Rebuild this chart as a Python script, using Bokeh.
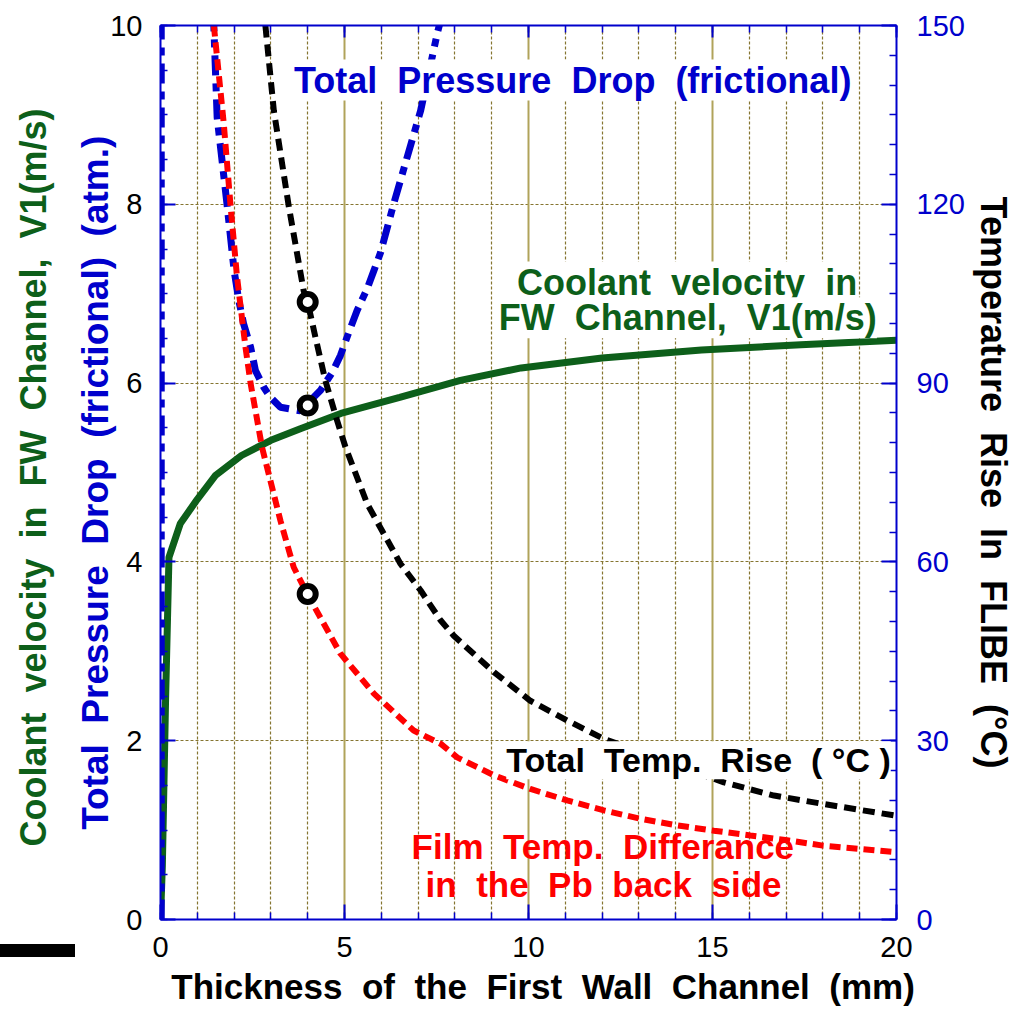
import math
from bokeh.plotting import figure
from bokeh.layouts import column
from bokeh.models import Range1d, LinearAxis, FixedTicker, Grid, Label, Div
from bokeh.embed import file_html
from bokeh.resources import INLINE

# ---------------- data ----------------
velocity_x = [0.0, 0.05, 0.14, 0.23, 0.54, 1.0, 1.5, 2.2, 3.0, 3.8, 4.9, 6.5, 8.15, 9.8, 12.0, 14.7, 17.4, 20.0]
velocity = [0.0, 0.6, 2.5, 4.05, 4.43, 4.7, 4.97, 5.19, 5.36, 5.49, 5.66, 5.84, 6.03, 6.17, 6.28, 6.37, 6.43, 6.48]

pressure_x = [0.02, 0.03, 1.45, 1.54, 1.81, 2.0, 2.13, 2.26, 2.45, 2.58, 2.81, 2.99, 3.26, 3.8, 4.35,
              4.67, 4.89, 5.12, 5.34, 5.62, 5.80, 5.98, 6.34, 7.07, 7.52, 7.7]
pressure = [0.0, 1000.0, 9.98, 8.97, 7.99, 7.26, 6.92, 6.66, 6.40, 6.14, 5.95, 5.84, 5.73, 5.69, 5.92,
            6.12, 6.31, 6.57, 6.81, 7.06, 7.26, 7.46, 8.01, 9.05, 9.91, 10.2]

total_temp_x = [2.85, 3.08, 3.49, 3.89, 4.0, 4.21, 4.48, 4.80, 5.03, 5.62, 6.52, 7.07, 7.61, 7.97,
                9.06, 10.05, 11.05, 12.05, 15.31, 16.67, 18.0, 20.0]
total_temp = [150.0, 135.7, 119.5, 105.5, 103.6, 97.7, 90.4, 83.7, 79.2, 69.7, 59.7, 55.2, 50.2, 47.6,
              41.5, 36.7, 33.4, 30.3, 23.0, 20.8, 19.4, 17.4]

film_temp_x = [1.45, 1.72, 1.90, 2.08, 2.31, 2.45, 2.76, 3.26, 3.62, 3.99, 4.89, 5.80, 6.88, 7.61, 8.06,
               9.06, 10.05, 11.05, 12.05, 13.04, 14.04, 15.04, 16.03, 17.03, 18.0, 20.0]
film_temp = [150.0, 133.5, 120.0, 107.8, 96.0, 89.9, 79.2, 66.9, 59.1, 54.6, 44.6, 37.9, 31.7, 29.5, 27.2,
             24.2, 21.9, 20.0, 18.3, 16.9, 15.8, 14.9, 14.1, 13.3, 12.4, 11.3]

design_x = [4.0]
design_pressure = [5.75]
design_temp_x = [4.0, 4.0]
design_temps = [103.6, 54.6]

x_ticks = [0, 5, 10, 15, 20]
x_minor_ticks = list(range(0, 21))
x_grid_dotted = [1, 2, 3, 4, 6, 7, 8, 9, 11, 12, 13, 14, 16, 17, 18, 19]
x_grid_solid = [5, 10, 15]
left_ticks = [0, 2, 4, 6, 8, 10]
left_minor_ticks = [i * 0.5 for i in range(21)]
y_grid = [2, 4, 6, 8]
right_ticks = [0, 30, 60, 90, 120, 150]
right_minor_ticks = list(range(0, 151, 5))

# ---------------- styles ----------------
BLUE = "#0000cc"
GREEN = "#0d5f1a"
RED = "#ff0000"
FONT = "Liberation Sans"
GRID_DOT = "#857530"
GRID_SOLID = "#b0a35a"
SP = " \u00a0"      # wide word gap (space + no-break space)
NB = "\u00a0"


def wide(s):
    return s.replace(" ", SP)


p = figure(width=1021, height=1016, x_range=Range1d(0, 20), y_range=Range1d(0, 10),
           output_backend="svg", toolbar_location=None,
           min_border_left=160, min_border_right=125, min_border_top=25, min_border_bottom=97)
p.extra_y_ranges = {"T": Range1d(0, 150)}
p.outline_line_color = None
p.background_fill_color = "white"
p.border_fill_color = "white"


def style_axis(ax, ticks, minor, label_color="black", standoff=15, label_size="29px"):
    ax.ticker = FixedTicker(ticks=ticks, minor_ticks=minor)
    ax.axis_line_color = BLUE
    ax.axis_line_width = 2
    ax.major_tick_line_color = BLUE
    ax.major_tick_line_width = 2
    ax.minor_tick_line_color = BLUE
    ax.minor_tick_line_width = 1.5
    ax.major_tick_in = 15
    ax.major_tick_out = 0
    ax.minor_tick_in = 7
    ax.minor_tick_out = 0
    ax.major_label_text_font = FONT
    ax.major_label_text_font_size = label_size
    ax.major_label_text_color = label_color
    ax.major_label_standoff = standoff


def style_title(ax, text, color, size, standoff):
    ax.axis_label = text
    ax.axis_label_text_color = color
    ax.axis_label_text_font = FONT
    ax.axis_label_text_font_style = "bold"
    ax.axis_label_text_font_size = f"{size}px"
    ax.axis_label_standoff = standoff


style_axis(p.xaxis[0], x_ticks, x_minor_ticks, standoff=17)
style_title(p.xaxis[0], NB * 3 + wide("Thickness of the First Wall Channel (mm)"), "black", 35, 7)

style_axis(p.yaxis[0], left_ticks, left_minor_ticks, standoff=18)
style_title(p.yaxis[0], wide("Total Pressure Drop (frictional) (atm.)") + NB * 2, BLUE, 37, -9)

green_axis = LinearAxis(ticker=FixedTicker(ticks=[]), axis_line_color=None,
                        major_tick_out=0, minor_tick_out=0, major_tick_in=0, minor_tick_in=0,
                        major_label_standoff=0, major_label_text_color=None)
style_title(green_axis, wide("Coolant velocity in FW Channel, V1(m/s)") + NB, GREEN, 36, 19)
p.add_layout(green_axis, "left")

right_axis = LinearAxis(y_range_name="T")
style_axis(right_axis, right_ticks, right_minor_ticks, label_color=BLUE, standoff=20)
style_title(right_axis, NB * 2 + wide("Temperature Rise In FLIBE (\u00b0C)"), "black", 36, 5)
p.add_layout(right_axis, "right")

top_axis = LinearAxis()
style_axis(top_axis, x_ticks, x_minor_ticks, standoff=0, label_size="11px")
top_axis.major_label_text_color = None
top_axis.major_tick_in = 12
top_axis.minor_tick_in = 7
p.add_layout(top_axis, "above")

# grids
p.xgrid[0].ticker = FixedTicker(ticks=x_grid_dotted)
p.xgrid[0].grid_line_color = GRID_DOT
p.xgrid[0].grid_line_dash = "3 2"
p.xgrid[0].grid_line_width = 1.2
p.ygrid[0].ticker = FixedTicker(ticks=y_grid)
p.ygrid[0].grid_line_color = GRID_DOT
p.ygrid[0].grid_line_dash = "3 2"
p.ygrid[0].grid_line_width = 1.2
solid_grid = Grid(dimension=0, ticker=FixedTicker(ticks=x_grid_solid),
                  grid_line_color=GRID_SOLID, grid_line_width=2)
p.add_layout(solid_grid)

# curves
p.line(velocity_x, velocity, line_color=GREEN, line_width=7)
p.line(pressure_x, pressure, line_color=BLUE, line_width=7, line_dash="20 8 8 8")
p.line(film_temp_x, film_temp, y_range_name="T", line_color=RED, line_width=6, line_dash="11 6")
p.line(total_temp_x, total_temp, y_range_name="T", line_color="black", line_width=6, line_dash="12 7")

p.scatter(design_x, design_pressure, marker="circle", size=16, fill_color="white",
          line_color="black", line_width=6)
p.scatter(design_temp_x, design_temps, y_range_name="T", marker="circle", size=16,
          fill_color="white", line_color="black", line_width=6)


def add_label(text, x, y, color, size, bg=None, spread=True):
    lab = Label(x=x, y=y, text=wide(text) if spread else text, text_color=color, text_font=FONT,
                text_font_style="bold", text_font_size=f"{size}px", text_align="center",
                text_baseline="middle", background_fill_color=bg)
    p.add_layout(lab)


# in-plot annotations
add_label("Total Pressure Drop (frictional)", 11.2, 9.39, BLUE, 36, bg="white")
add_label("Coolant velocity in", 14.31, 7.13, GREEN, 36, bg="white")
add_label("FW Channel, V1(m/s)", 14.33, 6.73, GREEN, 36, bg="white")
add_label("Total" + SP + "Temp." + SP + "Rise" + SP + "( \u00b0C )", 14.62, 1.78, "black", 34,
          bg="white", spread=False)
add_label("Film Temp. Differance", 12.02, 0.815, RED, 35)
add_label("in the Pb back side", 12.04, 0.39, RED, 35)

# stray black bar at the lower left of the original picture
bar = Div(text="", width=75, height=13, margin=0,
          styles={"position": "absolute", "left": "0px", "top": "944px",
                  "background-color": "black"})

layout = column(p, bar)
open("out.html", "w").write(file_html(layout, INLINE))
